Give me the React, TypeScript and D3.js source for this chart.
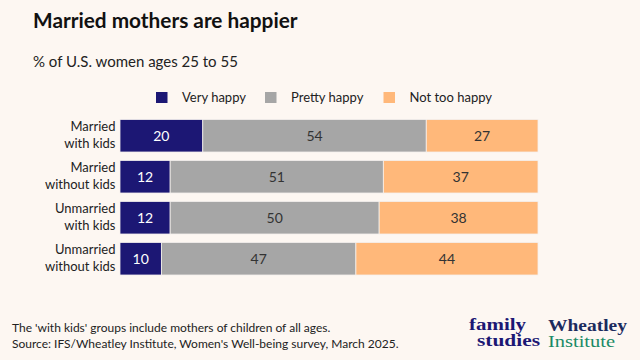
import React from "react";
import * as d3 from "d3";

const categories = [
  ["Married", "with kids"],
  ["Married", "without kids"],
  ["Unmarried", "with kids"],
  ["Unmarried", "without kids"],
];
const seriesNames = ["Very happy", "Pretty happy", "Not too happy"];
const veryHappy = [20, 12, 12, 10];
const prettyHappy = [54, 51, 50, 47];
const notTooHappy = [27, 37, 38, 44];

const colors = ["#1c1774", "#a6a6a6", "#ffb87a"];
const textColors = ["#ffffff", "#333333", "#333333"];
const FONT = "Lato, 'Open Sans', sans-serif";

export default function App() {
  const W = 640, H = 360;
  const rows = categories.map((c, i) => ({
    key: c.join(" "),
    "Very happy": veryHappy[i],
    "Pretty happy": prettyHappy[i],
    "Not too happy": notTooHappy[i],
  }));
  const stack = d3.stack<any>().keys(seriesNames).offset(d3.stackOffsetExpand);
  const series = stack(rows);
  const x = d3.scaleLinear().domain([0, 1]).range([120, 538]);
  const y = d3
    .scaleBand<string>()
    .domain(rows.map((r) => r.key))
    .range([115.25, 279.25])
    .paddingInner(0.207)
    .paddingOuter(0.1035);

  const legendX = [156, 265, 383.5];

  return (
    <svg width={W} height={H} style={{ position: "absolute", left: 0, top: 0, background: "#fdf7f2" }} fontFamily={FONT}>
      <rect width={W} height={H} fill="#fdf7f2" />
      <text x={33} y={28} fontSize={20.8} fontWeight={700} fill="#111">
        Married mothers are happier
      </text>
      <text x={33} y={66.5} fontSize={15} fill="#222">
        % of U.S. women ages 25 to 55
      </text>
      {seriesNames.map((s, i) => (
        <g key={s}>
          <rect x={legendX[i]} y={92} width={11.5} height={11} fill={colors[i]} />
          <text x={legendX[i] + 26} y={102} fontSize={13} fill="#222">
            {s}
          </text>
        </g>
      ))}
      {series.map((s, si) => (
        <g key={s.key}>
          {s.map((d, i) => {
            const x0 = x(d[0]);
            const x1 = x(d[1]);
            const yy = y(rows[i].key)!;
            const bw = y.bandwidth();
            const val = [veryHappy, prettyHappy, notTooHappy][si][i];
            return (
              <g key={i}>
                <rect x={x0} y={yy} width={x1 - x0} height={bw} fill={colors[si]} stroke="#f4f0ee" strokeWidth={0.8} />
                <text x={(x0 + x1) / 2} y={yy + bw / 2 + 5} textAnchor="middle" fontSize={14} fill={textColors[si]}>
                  {val}
                </text>
              </g>
            );
          })}
        </g>
      ))}
      {rows.map((r, i) => {
        const c = y(r.key)! + y.bandwidth() / 2;
        return (
          <text key={r.key} textAnchor="end" fontSize={13} fill="#222">
            <tspan x={115.5} y={c - 4.5}>{categories[i][0]}</tspan>
            <tspan x={115.5} y={c + 12}>{categories[i][1]}</tspan>
          </text>
        );
      })}
      <text x={12} y={332} fontSize={12} fill="#222">
        The 'with kids' groups include mothers of children of all ages.
      </text>
      <text x={12} y={347.5} fontSize={12} fill="#222">
        Source: IFS/Wheatley Institute, Women's Well-being survey, March 2025.
      </text>
      <g fontFamily="'Liberation Serif', 'DejaVu Serif', serif">
        <text x={469} y={330} fontSize={16} fontWeight={700} fill="#1c1774" textLength={57} lengthAdjust="spacingAndGlyphs">
          family
        </text>
        <text x={477} y={346} fontSize={16} fontWeight={700} fill="#1c1774" textLength={63} lengthAdjust="spacingAndGlyphs">
          studies
        </text>
        <text x={548} y={330.5} fontSize={16} fontWeight={700} fill="#1b2b5e" textLength={79} lengthAdjust="spacingAndGlyphs">
          Wheatley
        </text>
        <text x={548} y={346.5} fontSize={16} fill="#1a8a66" textLength={67} lengthAdjust="spacingAndGlyphs">
          Institute
        </text>
      </g>
    </svg>
  );
}
